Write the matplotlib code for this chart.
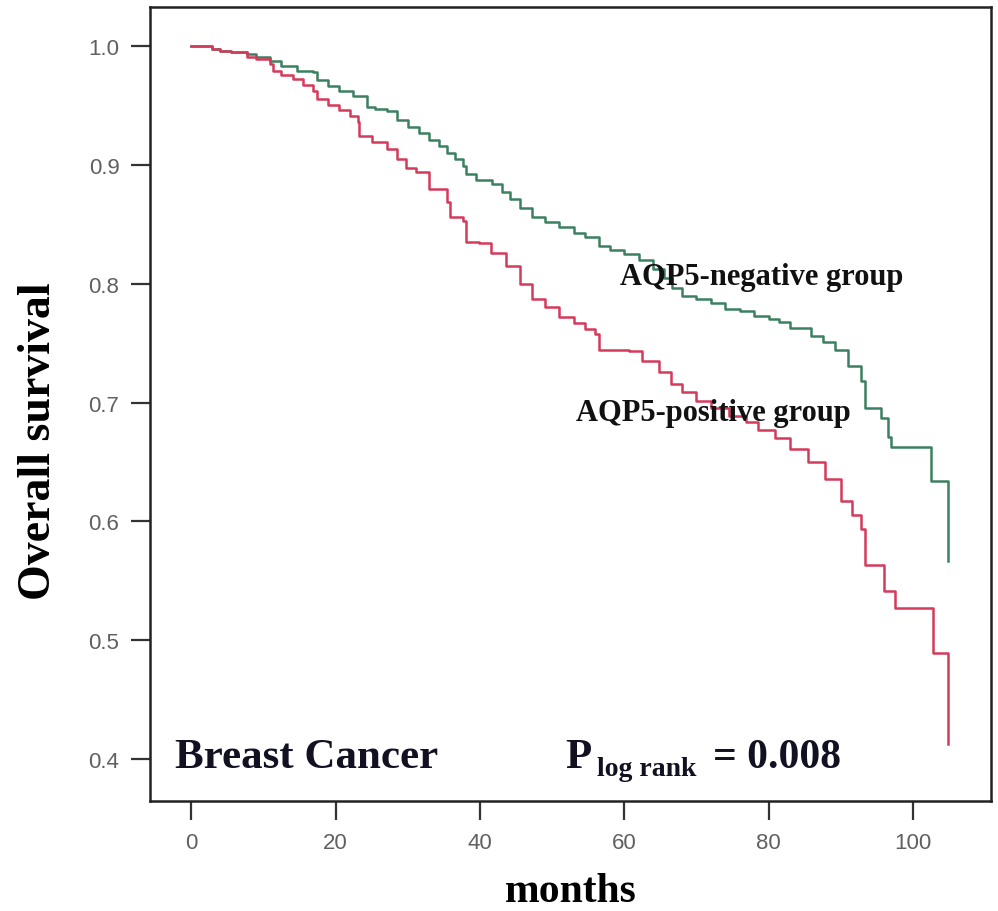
import matplotlib
matplotlib.use('Agg')
import matplotlib.pyplot as plt

# AQP5-negative group
neg_t = [0, 2.9, 4, 5.5, 7.7, 9, 10.9, 12.5, 14.6, 16.9, 17.4, 19, 20.5, 22.4, 24.3, 25.5,
         27.1, 28.5, 30, 31.5, 33, 34.4, 35.5, 36.5, 37.6, 38.1, 39.5, 41.7, 43, 44.1, 45.5,
         47.2, 49, 51, 53, 54.5, 56.5, 58, 60, 62, 64, 65.5, 66.6, 68, 70, 72, 74, 76, 78,
         80, 81.4, 83, 85.9, 87.5, 89.2, 91, 92.8, 93.4, 95.6, 96.5, 97, 102.5, 104.8]
neg_s = [1.0, 0.9975, 0.996, 0.995, 0.993, 0.991, 0.987, 0.983, 0.979, 0.978, 0.971, 0.966,
         0.962, 0.958, 0.949, 0.947, 0.945, 0.938, 0.932, 0.927, 0.921, 0.916, 0.910, 0.905,
         0.899, 0.892, 0.887, 0.884, 0.877, 0.871, 0.864, 0.856, 0.852, 0.848, 0.843, 0.839,
         0.832, 0.828, 0.825, 0.820, 0.812, 0.805, 0.796, 0.790, 0.787, 0.784, 0.779, 0.777,
         0.773, 0.770, 0.768, 0.763, 0.756, 0.751, 0.744, 0.731, 0.718, 0.695, 0.687, 0.671,
         0.663, 0.634, 0.567]

# AQP5-positive group
pos_t = [0, 2.9, 4, 5.5, 7.7, 9, 10.9, 11.3, 12.5, 14.1, 15.5, 16.9, 17.4, 19, 20.5, 22,
         23.1, 23.3, 25, 27.1, 28.5, 29.8, 31.2, 33, 35.4, 35.8, 37.6, 38.1, 39.9, 41.5, 43.6,
         45.5, 47.2, 49, 51, 53, 54.5, 56, 56.5, 60.6, 62.5, 64.8, 66.5, 68, 70, 72, 74.5,
         76.8, 78.5, 80.9, 83, 85.5, 87.8, 90, 91.5, 92.8, 93.4, 96, 97.5, 102.8, 104.8]
pos_s = [1.0, 0.9975, 0.996, 0.995, 0.991, 0.989, 0.985, 0.979, 0.976, 0.972, 0.967, 0.962,
         0.955, 0.950, 0.946, 0.941, 0.936, 0.924, 0.919, 0.913, 0.905, 0.897, 0.894, 0.880,
         0.869, 0.856, 0.853, 0.835, 0.834, 0.826, 0.815, 0.800, 0.787, 0.780, 0.772, 0.767,
         0.762, 0.758, 0.744, 0.743, 0.735, 0.726, 0.716, 0.709, 0.701, 0.695, 0.689, 0.684,
         0.677, 0.670, 0.661, 0.650, 0.636, 0.617, 0.605, 0.594, 0.563, 0.541, 0.527, 0.489,
         0.413]

x_ticks = [0, 20, 40, 60, 80, 100]
y_ticks = [0.4, 0.5, 0.6, 0.7, 0.8, 0.9, 1.0]

serif = ['Liberation Serif', 'DejaVu Serif']
sans = ['Liberation Sans', 'DejaVu Sans']

fig = plt.figure(figsize=(9.98, 9.12), dpi=100)
ax = fig.add_axes([0.1503, 0.1206, 0.8427, 0.8706])

ax.step(neg_t, neg_s, where='post', color='#3b8060', lw=1.8)
ax.step(pos_t, pos_s, where='post', color='#d43a5a', lw=1.8)

ax.set_xlim(-5.7, 110.8)
ax.set_ylim(0.3647, 1.0328)
ax.set_xticks(x_ticks)
ax.set_xticklabels([str(v) for v in x_ticks])
ax.set_yticks(y_ticks)
ax.set_yticklabels([f'{v:.1f}' for v in y_ticks])
for lab in ax.get_xticklabels() + ax.get_yticklabels():
    lab.set_family(sans)
    lab.set_fontsize(16)
    lab.set_color('#606060')
ax.tick_params(axis='both', length=14, width=1.6, color='#333333', pad=8)

for sp in ax.spines.values():
    sp.set_linewidth(1.8)
    sp.set_color('#222222')

ax.set_ylabel('Overall survival', family=serif, fontweight='bold', fontsize=33)
ax.yaxis.set_label_coords(-0.107, 0.455)
ax.set_xlabel('months', family=serif, fontweight='bold', fontsize=30, labelpad=14)

ax.text(79, 0.806, 'AQP5-negative group', family=serif, fontweight='bold', fontsize=22,
        ha='center', va='center', color='#111111')
ax.text(72.3, 0.692, 'AQP5-positive group', family=serif, fontweight='bold', fontsize=22,
        ha='center', va='center', color='#111111')

ax.text(-2.2, 0.393, 'Breast Cancer', family=serif, fontweight='bold', fontsize=31,
        ha='left', va='baseline', color='#111122')
ax.text(51.8, 0.393, 'P', family=serif, fontweight='bold', fontsize=31,
        ha='left', va='baseline', color='#111122')
ax.text(56.2, 0.387, 'log rank', family=serif, fontweight='bold', fontsize=20,
        ha='left', va='baseline', color='#111122')
ax.text(72.3, 0.393, '= 0.008', family=serif, fontweight='bold', fontsize=30,
        ha='left', va='baseline', color='#111122')

fig.savefig('out.png', dpi=100)
